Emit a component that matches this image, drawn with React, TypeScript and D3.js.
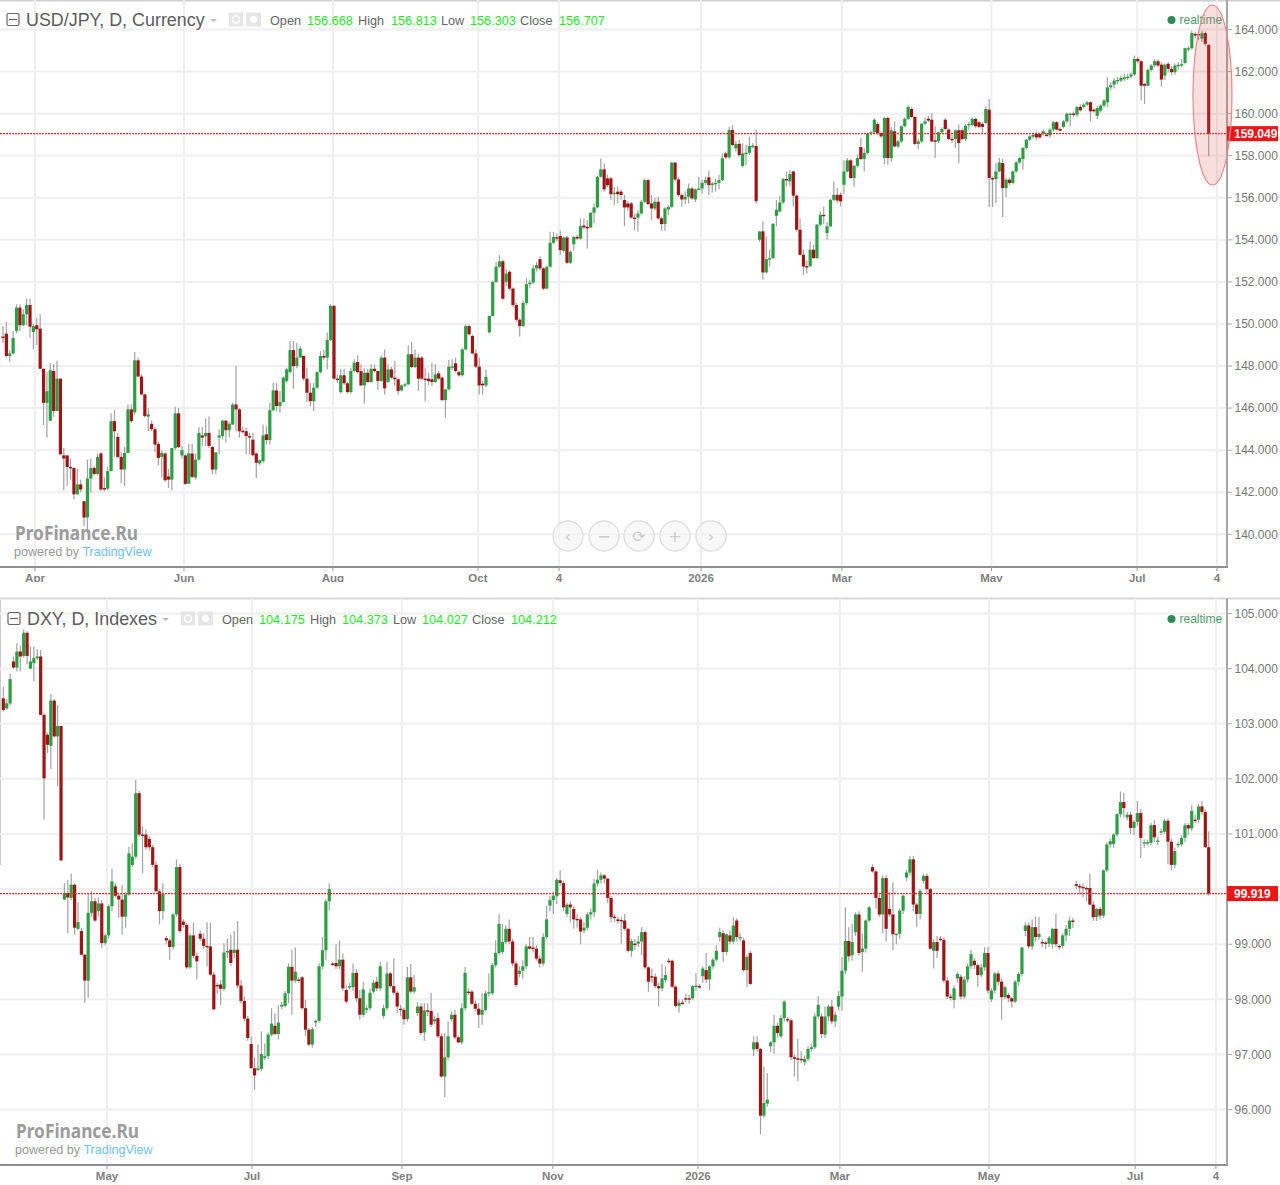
import React from "react";
import * as d3 from "d3";

type Bar = [number, number, number, number]; // open, high, low, close

const usdJpyAprMay: Bar[] = [
[149.4,149.9,149.1,149.35],[149.54,150.1,148.4,148.48],[148.48,148.75,148.2,148.6],[148.6,149.67,148.55,149.33],[149.67,150.94,149.55,150.78],[150.78,150.94,149.67,149.94],[149.94,150.7,149.9,150.46],[150.46,151.2,149.94,150.9],[150.9,151.2,149.35,149.87],[149.62,150.0,148.8,149.9],[149.94,150.3,149.0,149.75],[149.78,150.46,147.87,147.87],[147.87,147.87,145.2,146.25],[146.25,147.7,144.6,146.8],[145.4,148.15,145.4,147.8],[147.76,148.1,145.6,145.86],[145.86,148.25,145.86,147.4],[147.4,147.4,143.8,143.8],[143.75,144.1,142.1,143.6],[143.75,143.75,142.3,143.2],[143.2,143.6,142.6,143.15],[143.15,143.2,141.65,141.9],[141.9,143.1,141.9,142.37],[142.37,142.6,142.0,142.13],[141.57,141.6,140.4,140.8],[140.8,143.55,140.05,142.65],[142.65,143.6,141.97,143.15],[143.15,143.25,142.8,142.87],[142.87,143.84,142.8,143.68],[143.84,143.9,142.05,142.13],[142.2,142.7,142.05,142.17],[142.17,143.2,142.1,143],[143,145.75,143,145.38],[145.38,145.9,143.7,144.9],[144.63,144.8,143.6,143.68],[143.68,143.9,142.44,143.08],[143.08,144.15,142.3,143.87],[143.87,146.17,143.87,145.94],[145.94,146.17,145.3,145.38],[145.8,148.67,145.7,148.27],[148.27,148.4,147.5,147.5],[147.5,147.6,146.6,146.65],[146.65,146.7,145.55,145.62],[145.6,146.0,144.9,145.7],[145.25,145.4,144.9,145],[145,145.1,143.9,144.27],[144.3,144.4,143.3,143.63],[143.68,144.0,142.7,143.87],[143.84,143.9,142.5,142.57],[142.75,143.1,142.2,142.6],[142.6,144.1,142.1,144.1],[144.1,146.06,144,145.75],[145.75,146,144.1,144.15],
];
const usdJpyJunJul: Bar[] = [
[143.75,144.2,143.6,144],[143.75,143.8,142.35,142.4],[142.4,144.3,142.4,143.85],[143.84,144.3,142.68,142.73],[142.7,143.85,142.6,143.55],[143.55,145.1,143.5,144.82],[144.7,145.1,144.2,144.6],[144.66,145.5,144.2,144.82],[144.82,145.6,144.1,144.2],[144.15,144.2,142.85,143.08],[143.08,143.9,142.85,143.9],[144.6,145,143.8,144.7],[144.67,145.45,144.5,145.4],[145.4,145.45,144.35,144.95],[144.95,145.35,144.6,145.25],[145.22,146.25,145.2,146.17],[146.17,148,144.9,145.94],[145.94,146,144.6,144.9],[144.92,145.1,144.8,144.9],[144.9,145.05,143.8,144.67],[144.67,144.83,143.8,144.6],[144.5,144.83,143.7,143.76],[143.84,143.9,142.68,143.4],[143.37,143.55,143.3,143.52],[143.47,145.22,143.4,144.7],[144.75,145.14,144.27,144.48],[144.48,146.25,144.27,145.9],[145.9,147.2,145.85,146.84],[146.84,147.2,145.86,146.1],[146.1,146.81,145.78,146.29],[146.29,147.5,146.25,147.45],[147.29,147.92,147.2,147.84],[147.71,149.19,147.65,148.76],[148.76,149.19,146.92,148],[148,149.11,147.9,148.4],[148.4,148.95,148.4,148.83],[148.48,148.5,147.3,147.4],[147.4,147.92,146.29,146.73],[146.73,147.21,146.1,146.33],[146.33,147.21,145.86,146.97],[146.97,147.75,146.9,147.71],[147.71,148.71,147.65,148.48],[148.48,148.79,148.3,148.4],[148.4,149.59,147.84,149.24],[149.24,150.94,149.2,150.86],[150.86,150.9,147.35,147.4],
];
const usdJpyAugSep: Bar[] = [
[147.4,147.6,147.2,147.35],[146.76,147.87,146.7,147.56],[147.56,147.87,147.1,147.18],[147.18,147.25,146.7,146.76],[146.76,147.92,146.7,147.76],[147.76,148.32,147.7,148.16],[148.19,148.51,147.65,147.71],[147.76,148.08,147.05,147.08],[147.08,147.9,146.22,147.68],[147.68,147.87,147.2,147.24],[147.24,148.08,147.2,147.87],[147.87,148.08,147.7,147.76],[147.76,147.8,146.89,147.29],[147.29,148.5,147.25,148.4],[148.4,148.79,146.65,146.94],[147.24,148.08,147.2,147.84],[147.84,147.95,147.4,147.45],[147.45,148.24,147.05,147.37],[147.37,147.45,146.65,146.81],[146.84,147.12,146.8,147.08],[147.08,147.2,147.0,147.13],[147.13,148.98,147.1,148.56],[148.56,149.14,147.9,147.95],[147.95,148.79,147.9,148.4],[148.4,148.56,146.81,147.4],[148.4,148.48,147.35,147.4],[147.4,147.92,146.33,147.37],[147.4,147.7,147.1,147.29],[147.37,148.16,147.05,147.24],[147.24,148.08,147.2,147.6],[147.65,147.75,147.35,147.4],[147.45,147.5,146.33,146.38],[146.38,146.9,145.54,146.89],[146.89,148.29,146.85,147.97],[147.95,148.32,147.8,147.98],[148.13,148.4,147.7,147.76],[147.71,147.8,147.5,147.56],[147.56,148.85,147.5,148.79],[148.79,149.98,148.75,149.9],[149.9,149.98,149.45,149.51],[149.43,149.5,148.55,148.6],[148.6,148.79,147.9,147.97],[147.97,148.4,146.65,147.08],[147.16,147.3,146.65,147.08],[147.08,147.84,147.0,147.48],
];
const usdJpyOctDec: Bar[] = [
[149.6,150.4,149.55,150.38],[150.38,152.05,150.38,152],[152,152.95,151.95,152.72],[152.72,153.27,152.65,152.98],[152.98,153.05,151.15,151.2],[152,152.6,151.8,152.4],[152.48,152.55,151.6,151.68],[151.68,151.75,150.8,150.9],[150.9,151,150.1,150.2],[150.2,150.3,149.4,149.9],[149.9,151.1,149.85,151],[151,152.16,150.9,151.89],[151.89,152.1,151.7,151.97],[151.97,152.8,151.9,152.64],[152.64,152.95,152.5,152.8],[153.08,153.22,152.55,152.64],[152.64,152.7,151.6,151.68],[151.68,152.75,151.65,152.72],[152.72,154.38,152.7,153.86],[153.86,154.38,153.8,154.14],[154.12,154.3,153.95,154.1],[154.18,154.46,153.27,153.51],[153.48,154.15,153.4,154.11],[154.11,154.2,152.85,152.91],[152.91,153.5,152.85,153.43],[153.79,154.2,153.5,154.14],[154.14,154.25,154,154.06],[154.06,155.02,154,154.65],[154.68,155.02,154.5,154.59],[154.62,154.94,153.59,154.54],[154.59,155.3,154.55,155.29],[155.29,155.73,154.78,155.54],[155.54,157.05,155.5,157],[157,157.87,156.95,157.35],[157.35,157.63,156.29,156.4],[156.92,157.1,156.5,156.6],[156.92,157,155.89,156.17],[156.17,156.52,155.65,156.24],[156.29,156.52,155.73,156.17],[156.29,156.4,155.9,156.13],[155.89,156.13,154.65,155.54],[155.73,155.85,155.4,155.54],[155.73,155.8,155,155.06],[155.06,155.25,154.46,155.03],[155.06,155.41,154.38,155.25],[155.25,155.9,155.2,155.81],[155.81,156.9,155.75,156.84],[156.84,156.9,155.65,155.7],[155.73,156.13,154.94,155.49],[155.49,156,155.4,155.81],[155.81,156.05,154.95,155.02],[155.02,155.1,154.43,154.75],[154.75,155.55,154.43,155.49],[155.44,155.65,155.17,155.57],[155.57,157.7,155.5,157.67],[157.67,157.7,156.8,156.87],[156.87,156.95,156.05,156.13],[156.13,156.2,155.57,155.92],[155.92,156.3,155.7,156.05],[156.05,156.68,155.73,156.44],[156.44,156.5,155.9,155.97],[155.92,156.45,155.8,156.4],[156.4,157,156.35,156.44],[156.44,156.87,156.2,156.71],[156.71,157,156.6,156.84],[156.97,157.29,156.13,156.6],[156.6,156.75,156.25,156.68],[156.68,156.9,156.3,156.71],[156.71,157.08,156.4,156.84],[156.84,158.11,156.8,157.87],[158.11,158.2,157.85,157.92],[157.92,159.38,157.85,159.22],[159.22,159.46,158.45,158.51],[158.35,158.7,158.2,158.56],[158.56,158.75,157.95,158.03],[157.51,158.59,157.44,158.11],[158.08,158.51,157.56,158.14],[158.14,158.9,158.03,158.46],[158.46,158.6,158.35,158.48],[158.46,159.22,155.73,155.84],
];
const usdJpyJanMar: Bar[] = [
[154,154.4,153.9,154.4],[154.4,154.87,152.1,152.45],[152.45,154.16,152.4,153.08],[153.08,153.53,152.73,153.13],[153.13,154.8,153.1,154.76],[155.14,155.9,154.64,155.43],[155.35,156.1,155.3,155.78],[155.78,156.95,155.7,156.89],[156.89,157.25,156.54,156.83],[156.78,157.33,156.54,157.13],[157.25,157.3,155.59,156.1],[156.1,156.15,154.4,154.48],[154.48,155.03,153.25,153.29],[153.29,153.55,152.33,152.73],[152.75,153,152.4,152.74],[152.75,153.92,152.7,153.53],[153.53,153.76,153.1,153.13],[153.13,154.75,153.1,154.72],[154.72,155.35,154.65,155.19],[155.19,155.59,154.75,155.14],[154.32,154.85,154,154.64],[154.64,155.95,154.6,155.9],[155.9,156.78,155.85,156.14],[156.14,156.46,155.75,155.87],[156.14,156.25,155.59,155.83],[156.62,157.78,156.19,157.25],[157.25,157.89,157.2,157.78],[157.78,157.85,156.9,156.94],[156.94,157.55,156.51,157.52],[157.52,158.05,157.45,157.89],[158.41,158.84,157.8,157.84],[157.84,158.35,157.25,158.13],[158.13,159.1,158.05,159.05],[159.05,159.2,158.95,159.11],[159.11,159.78,159.05,159.71],[159.51,159.6,159.0,159.08],[159.08,159.15,158.85,158.92],[157.89,159.85,157.6,159.79],[159.79,159.85,157.57,157.89],[157.89,159.35,157.7,159.21],[159.16,159.63,158.4,158.44],[158.44,158.75,158.35,158.68],[158.68,159.45,158.6,159.4],[159.4,159.8,159.35,159.75],[159.75,160.4,159.7,160.32],[160.22,160.3,159.8,159.84],[159.84,159.9,158.5,158.56],
];
const usdJpyAprJun: Bar[] = [
[158.56,158.8,158.3,158.68],[158.68,159.55,158.6,159.52],[159.52,159.8,159.45,159.63],[159.76,159.9,159.6,159.67],[159.71,160.03,158.65,158.68],[158.73,159.4,157.89,158.68],[158.68,159.15,158.6,159.11],[159.11,159.35,159.05,159.27],[159.71,159.8,159.2,159.27],[159.24,159.3,158.75,158.79],[158.8,159,158.6,158.79],[158.79,159.25,158.37,159.21],[159.21,159.48,157.65,158.6],[159.21,159.3,158.75,158.79],[158.79,159.5,158.7,159.43],[159.46,159.63,159.2,159.51],[159.46,159.8,159.4,159.75],[159.75,159.8,159.3,159.4],[159.59,159.65,159.3,159.37],[159.51,159.6,159.05,159.37],[159.56,160.35,159.5,160.22],[160.19,160.7,155.56,156.94],[156.94,157,155.56,156.89],[156.89,157.65,155.75,157.25],[157.25,157.9,157.2,157.68],[157.65,157.85,155.08,156.46],[156.46,156.95,156.03,156.86],[156.86,156.95,156.6,156.7],[156.7,157.3,156.65,157.25],[157.25,157.75,157.2,157.68],[157.68,157.95,157.6,157.89],[157.84,158.4,157.33,158.37],[158.37,158.8,158.3,158.76],[158.76,159,158.7,158.92],[158.9,159.1,158.8,159],[159.03,159.15,158.75,158.87],[159.03,159.1,158.8,158.87],[159.05,159.25,158.95,159.16],[159,159.1,158.9,158.97],[158.97,159.3,158.85,159.24],[159.24,159.65,159.15,159.59],[159.59,159.65,159.2,159.24],[159.27,159.35,159.15,159.19],[159.37,159.7,159.3,159.63],[159.63,160.05,159.55,160],[159.94,160.05,159.4,160],[160,160.1,159.85,159.98],[159.95,160.35,159.85,160.32],[160.32,160.45,160.1,160.16],[160.32,160.5,160.25,160.43],[160.43,160.6,160.35,160.54],[160.54,160.6,159.63,160.11],[160.19,160.25,160.05,160.11],[159.9,160.35,159.75,160.27],
];
const usdJpyJulAug: Bar[] = [
[160.14,160.45,160.05,160.38],[160.38,160.7,160.3,160.62],[160.54,161.73,160.3,161.25],[161.25,161.5,161.1,161.35],[161.38,161.7,161.2,161.57],[161.54,161.75,161.4,161.6],[161.57,161.8,161.5,161.7],[161.64,161.9,161.55,161.73],[161.73,161.9,161.6,161.76],[161.76,161.95,161.7,161.86],[161.86,162.76,161.8,162.6],[162.6,162.7,162.4,162.49],[162.49,162.55,160.62,161.33],[161.41,161.45,160.46,161.33],[161.33,162.15,161.3,162.08],[162.08,162.35,162,162.29],[162.29,162.6,162.2,162.49],[162.49,162.6,162.2,162.29],[162.33,162.45,161.29,161.62],[161.81,162.4,161.6,162.33],[162.37,162.45,161.95,162.13],[162.13,162.25,161.85,161.97],[161.97,162.4,161.85,162.29],[162.27,162.45,162.1,162.32],[162.32,162.6,162.2,162.35],[162.41,163.15,162.35,163.11],[163.08,163.2,162.95,163.11],[163.11,163.95,163.05,163.83],[163.79,163.9,163.6,163.71],[163.79,163.9,163.5,163.75],[163.56,163.95,163.4,163.83],[163.83,163.9,163.2,163.32],[163.27,163.3,157.97,159.049],
];

const dxyMarMay: Bar[] = [
[103.46,103.67,103.22,103.25],[103.28,103.45,103.25,103.37],[103.37,103.91,103.33,103.81],[104.13,104.22,104.0,104.02],[104.02,104.46,103.95,104.31],[104.31,104.42,103.95,104.22],[104.23,104.71,104.2,104.65],[104.65,104.68,104.08,104.23],[104.0,104.4,104.0,104.13],[104.1,104.4,103.77,104.19],[104.19,104.35,104.15,104.22],[104.22,104.34,103.16,103.16],[103.16,103.2,101.26,102.01],[102.8,102.83,102.47,102.62],[102.6,103.54,102.18,103.42],[103.42,103.45,102.75,102.77],[102.77,103.34,101.86,102.96],[102.96,102.96,100.52,100.52],[99.81,100.11,99.81,99.93],[99.93,100.16,99.2,99.85],[99.84,100.28,99.8,100.08],[100.08,100.1,99.17,99.3],[99.28,99.76,99.25,99.4],[99.24,99.3,98.8,98.81],[98.81,98.82,97.94,98.34],[98.34,99.93,98.03,99.57],[99.57,99.96,99.5,99.78],[99.78,99.84,99.4,99.43],[99.6,99.85,99.5,99.74],[99.74,99.8,98.93,99.02],[99.02,99.2,98.98,99.16],[99.16,99.72,99.1,99.69],[99.69,100.37,99.6,100.14],[100.05,100.11,99.85,99.88],[99.88,99.92,99.48,99.81],[99.81,100.08,99.17,99.5],[99.5,99.95,99.3,99.9],[99.9,100.77,99.88,100.65],[100.44,100.83,100.4,100.59],[100.59,101.98,100.55,101.74],[101.74,101.78,100.95,100.99],[100.99,101.14,100.29,100.97],[100.99,101.08,100.72,100.76],[100.91,100.96,100.7,100.76],[100.76,100.8,100.4,100.44],[100.44,100.5,99.95,99.96],[99.96,100,99.36,99.6],[99.6,100.11,99.45,99.92],
];
const dxyJunJul: Bar[] = [
[99.11,99.15,99.0,99.07],[99.07,99.1,98.72,98.95],[98.95,99.56,98.9,99.54],[99.54,100.54,99.5,100.4],[100.4,100.46,99.2,99.24],[99.41,99.45,99.3,99.35],[99.35,99.38,98.55,98.58],[98.58,99.2,98.55,99.16],[99.16,99.39,98.75,98.79],[98.79,98.85,98.36,98.69],[99.19,99.25,99.05,99.1],[99.1,99.2,98.92,98.97],[98.97,99.4,98.6,98.95],[98.96,99.39,98.42,98.45],[98.45,98.5,97.8,97.82],[98.26,98.3,98.1,98.24],[98.27,98.35,97.9,98.19],[98.19,99.02,98.15,98.85],[98.85,99.1,98.75,98.88],[98.9,99.17,98.6,98.66],[98.84,99.24,98.75,98.9],[98.9,99.42,98.2,98.25],[98.25,98.35,97.92,97.97],[97.97,98.05,97.6,97.65],[97.65,97.7,97.25,97.3],[97.19,97.32,96.75,96.75],[96.75,96.95,96.36,96.62],[96.72,97.18,96.7,96.75],[96.74,97.42,96.7,97.01],[96.94,97.2,96.9,96.97],[96.97,97.4,96.92,97.36],[97.36,97.84,97.33,97.56],[97.52,97.75,97.35,97.37],[97.37,97.9,97.27,97.58],[97.87,97.95,97.82,97.9],[97.88,98.15,97.85,98.11],[98.11,98.65,97.93,98.59],[98.59,98.9,97.72,98.34],[98.34,98.94,98.3,98.5],[98.36,98.4,98.3,98.35],[98.4,98.42,97.82,97.84],[97.84,97.99,97.33,97.45],[97.45,97.48,97.15,97.18],[97.18,97.5,97.12,97.46],[97.58,97.63,97.5,97.61],[97.61,98.65,97.58,98.6],[98.6,99.13,98.55,98.89],[98.89,99.82,98.71,99.78],[99.78,100.1,99.61,100],
];
const dxyAugOct: Bar[] = [
[98.65,98.68,98.6,98.63],[98.66,99.0,98.55,98.6],[98.6,99.07,98.55,98.72],[98.72,98.83,98.15,98.2],[98.17,98.25,97.92,97.96],[98.23,98.3,98.18,98.24],[98.22,98.65,98.15,98.48],[98.48,98.55,97.95,98.02],[98.02,98.17,97.63,97.72],[97.72,98.32,97.68,98.18],[97.81,97.9,97.75,97.84],[97.84,98.2,97.8,98.12],[98.14,98.35,98.1,98.3],[98.32,98.41,98.15,98.2],[98.2,98.68,98.15,98.6],[97.7,97.9,97.65,97.84],[97.84,98.68,97.8,98.47],[98.47,98.5,98.2,98.24],[98.24,98.74,98.08,98.12],[98.12,98.15,97.75,97.87],[97.83,97.9,97.7,97.81],[97.81,97.85,97.54,97.64],[97.64,98.59,97.6,98.4],[98.4,98.64,98.1,98.14],[98.14,98.44,98.1,98.22],[97.75,97.95,97.7,97.87],[97.87,97.93,97.35,97.39],[97.4,97.93,97.25,97.8],[97.8,97.93,97.7,97.79],[97.79,98.12,97.5,97.54],[97.6,97.7,97.55,97.64],[97.66,97.75,97.3,97.33],[97.33,97.38,96.58,96.6],[96.6,97.39,96.23,96.95],[96.95,97.6,96.9,97.33],[97.64,97.78,97.6,97.72],[97.72,97.81,97.28,97.31],[97.31,97.35,97.2,97.22],[97.22,97.93,97.18,97.84],[97.84,98.59,97.8,98.48],[98.14,98.2,98.08,98.13],[98.14,98.18,97.9,97.92],[97.92,97.98,97.78,97.83],[97.83,97.93,97.48,97.72],[97.72,98.11,97.54,97.81],[97.81,98.15,97.78,98.11],[98.11,98.47,98.05,98.13],[98.11,98.66,98.08,98.62],[98.62,99.07,98.58,98.84],[98.84,99.55,98.8,99.37],[98.86,99.37,98.82,99.04],[99.04,99.35,99.0,99.28],[99.28,99.45,99.0,99.05],[99.05,99.1,98.6,98.65],[98.65,98.7,98.22,98.26],[98.46,98.6,98.4,98.52],[98.52,98.71,98.38,98.6],[98.6,99,98.55,98.96],[98.96,99.13,98.9,98.92],[98.94,99.13,98.85,98.93],
];
const dxyNovDec: Bar[] = [
[98.92,98.98,98.7,98.74],[98.74,98.8,98.58,98.65],[98.65,99.2,98.6,99.13],[99.13,99.7,99.1,99.45],[99.7,99.88,99.6,99.8],[99.8,99.95,99.55,99.88],[99.87,100.2,99.73,100.17],[100.16,100.34,100.05,100.11],[100.11,100.15,99.6,99.67],[99.55,99.75,99.5,99.72],[99.72,99.78,99.4,99.67],[99.64,99.7,99.28,99.45],[99.46,99.55,99.3,99.45],[99.45,99.5,99,99.23],[99.25,99.4,99.2,99.3],[99.3,99.58,99.25,99.54],[99.54,99.65,99.45,99.58],[99.58,100.19,99.5,100.1],[100.1,100.35,100.05,100.17],[100.17,100.3,100.1,100.25],[100.25,100.27,100.1,100.19],[100.19,100.2,99.75,99.84],[99.84,99.88,99.4,99.49],[99.5,99.55,99.4,99.49],[99.45,99.5,99.38,99.42],[99.44,99.5,99.01,99.43],[99.43,99.55,99.25,99.28],[99.28,99.3,98.85,98.88],[98.88,99.1,98.77,99.06],[99.01,99.1,98.9,99],[99.01,99.15,98.95,99.05],[99.05,99.31,98.8,99.22],[99.22,99.25,98.55,98.58],[98.58,98.6,98.14,98.32],[98.42,98.55,98.3,98.41],[98.41,98.47,98.2,98.24],[98.24,98.3,97.87,98.2],[98.2,98.64,98.15,98.38],[98.35,98.59,98.3,98.44],[98.7,98.75,98.65,98.68],[98.7,98.72,98.2,98.23],[98.23,98.25,97.85,97.88],[97.88,98.0,97.76,97.94],[97.94,98.0,97.9,97.93],[98.02,98.1,97.95,98.0],[98.02,98.08,97.92,98.0],[98.02,98.26,97.98,98.24],[98.24,98.48,98.15,98.25],[98.24,98.28,98.2,98.23],[98.42,98.6,98.3,98.56],[98.53,98.84,98.3,98.36],[98.36,98.62,98.17,98.6],[98.6,98.75,98.55,98.72],[98.72,98.98,98.68,98.88],[99.13,99.3,99.05,99.22],[99.2,99.25,98.68,98.86],[98.86,99.2,98.8,99.18],[99.16,99.25,99.0,99.05],[99.05,99.49,99.0,99.34],[99.43,99.47,99.05,99.13],[99.12,99.2,99.05,99.13],[99.07,99.12,98.5,98.53],[98.53,98.8,98.23,98.77],[98.84,98.88,98.26,98.28],
];
const dxyJanApr: Bar[] = [
[97.09,97.33,96.97,97.22],[97.22,97.33,97.05,97.1],[97.1,97.12,95.55,95.89],[95.89,96.78,95.85,96.12],[96.11,96.66,96.05,96.18],[97.15,97.25,97.05,97.22],[97.22,97.72,97.01,97.52],[97.52,97.58,97.3,97.39],[97.33,97.72,97.3,97.66],[97.66,97.98,97.6,97.96],[97.64,97.68,97.58,97.62],[97.62,97.65,96.9,96.95],[96.95,97.0,96.6,96.92],[96.93,97.28,96.51,96.92],[96.92,97.06,96.85,96.9],[96.86,96.98,96.8,96.92],[96.92,97.15,96.88,97.1],[97.1,97.2,97.05,97.13],[97.13,97.75,97.1,97.69],[97.69,98.06,97.65,97.9],[97.69,97.75,97.3,97.37],[97.36,97.87,97.3,97.69],[97.69,97.9,97.6,97.87],[97.87,97.99,97.55,97.6],[97.6,97.78,97.5,97.72],[97.87,98.15,97.8,98.06],[98.05,98.77,97.8,98.52],[98.52,99.67,98.45,99.06],[99.06,99.31,98.68,98.78],[98.8,99.37,98.7,99.04],[99.22,99.58,99.15,99.54],[99.54,99.6,98.8,98.84],[98.86,99.2,98.5,98.92],[98.92,99.45,98.85,99.43],[99.43,99.7,99.4,99.67],[100.4,100.45,100.3,100.32],[100.32,100.35,99.65,99.84],[99.84,99.9,99.5,99.54],[99.54,100.25,99.2,100.2],[100.2,100.25,99.05,99.28],[99.64,99.95,99.5,99.54],[99.54,100.12,98.89,99.18],[99.17,99.2,99.0,99.19],[99.19,99.65,99.1,99.61],[99.61,99.9,99.55,99.88],[100.21,100.35,100.15,100.3],[100.3,100.6,100.25,100.54],[100.54,100.6,99.6,99.72],[99.72,99.75,99.31,99.55],[99.55,100.0,99.45,99.97],[100.15,100.28,100.1,100.24],[100.24,100.28,99.9,100],[100,100.02,98.9,98.92],
];
const dxyMayJun: Bar[] = [
[98.88,99.1,98.56,99.04],[99.04,99.15,98.75,98.88],[99.1,99.15,99.05,99.08],[99.08,99.12,98.3,98.34],[98.34,98.4,98.0,98.05],[98.05,98.1,97.98,98.04],[97.99,98.25,97.84,98.2],[98.38,98.5,98.3,98.46],[98.41,98.45,98.0,98.05],[98.05,98.42,98.0,98.36],[98.36,98.65,98.3,98.6],[98.6,98.9,98.55,98.82],[98.7,98.75,98.55,98.62],[98.62,98.65,98.22,98.44],[98.44,98.65,98.4,98.58],[98.58,98.95,98.52,98.84],[98.84,98.95,98.1,98.16],[98,98.2,97.95,98.16],[98.16,98.5,98.1,98.47],[98.47,98.52,98.25,98.32],[98.32,98.38,97.63,98.04],[98.04,98.25,98,98.22],[98.08,98.12,97.95,98.02],[98.02,98.05,97.85,97.96],[97.96,98.35,97.93,98.32],[98.32,98.5,98.25,98.46],[98.46,98.96,98.42,98.94],[99.24,99.4,99.15,99.34],[99.34,99.4,98.92,98.96],[98.96,99.45,98.9,99.31],[99.31,99.5,99.05,99.13],[99.13,99.5,99.08,99.19],[99.04,99.1,98.95,99.03],[99.03,99.06,98.92,99.02],[99.01,99.15,98.95,99.12],[99.0,99.3,98.92,99.28],[99.28,99.55,98.95,99],[98.97,99,98.9,98.96],[98.97,99.2,98.92,99.16],[99.16,99.35,99.05,99.28],[99.28,99.5,99.15,99.43],[99.43,99.48,99.3,99.42],[100.09,100.15,100.0,100.06],[100.06,100.1,99.9,100.03],[100.04,100.1,99.85,100.02],[100.02,100.05,99.78,100.0],[100.02,100.28,99.7,99.72],[99.72,99.78,99.42,99.49],[99.49,99.66,99.42,99.64],[99.64,99.68,99.45,99.52],[99.52,100.36,99.48,100.34],
];
const dxyJulAug: Bar[] = [
[100.34,100.85,100.3,100.81],[100.81,100.92,100.75,100.87],[100.82,101.02,100.75,100.99],[100.99,101.38,100.95,101.36],[101.36,101.77,101.3,101.58],[101.58,101.75,101.3,101.47],[101.3,101.4,101.25,101.35],[101.35,101.4,101.0,101.11],[101.11,101.25,100.98,101.22],[101.22,101.6,101.15,101.38],[101.38,101.45,100.56,100.93],[100.84,100.9,100.75,100.85],[100.84,100.9,100.8,100.85],[100.84,101.2,100.8,101.16],[101.16,101.25,100.85,100.94],[100.87,100.95,100.8,100.88],[101.04,101.1,100.98,101.05],[101.04,101.28,101,101.24],[101.24,101.28,100.45,100.86],[100.86,100.92,100.34,100.44],[100.44,100.75,100.38,100.69],[100.81,100.86,100.75,100.82],[100.81,100.98,100.77,100.93],[100.93,101.2,100.85,101.16],[101.16,101.2,100.98,101.1],[101.1,101.52,101.05,101.42],[101.26,101.35,101.2,101.25],[101.26,101.55,101.2,101.5],[101.5,101.6,101.35,101.4],[101.4,101.45,100.75,100.76],[100.76,101.05,99.88,99.919],
];

const usdJpyBars: Bar[] = [...usdJpyAprMay, ...usdJpyJunJul, ...usdJpyAugSep, ...usdJpyOctDec, ...usdJpyJanMar, ...usdJpyAprJun, ...usdJpyJulAug];
const dxyBars: Bar[] = [...dxyMarMay, ...dxyJunJul, ...dxyAugOct, ...dxyNovDec, ...dxyJanApr, ...dxyMayJun, ...dxyJulAug];

const usdJpyPrices = [164, 162, 160, 158, 156, 154, 152, 150, 148, 146, 144, 142, 140];
const dxyPrices = [105, 104, 103, 102, 101, 100, 99, 98, 97, 96];
const usdJpyTickLabels = ["Apr", "Jun", "Aug", "Oct", "4", "2026", "Mar", "May", "Jul", "4"];
const usdJpyTickBars = [8.73, 52.08, 95.4, 137.6, 161.2, 202.5, 243.5, 287, 329.4, 352.6];
const dxyTickLabels = ["May", "Jul", "Sep", "Nov", "2026", "Mar", "May", "Jul", "4"];
const dxyTickBars = [29.68, 71.86, 115.5, 159.4, 201.6, 242.9, 286.3, 328.8, 352.3];
const usdJpyHeader = { title: "USD/JPY, D, Currency", open: "156.668", high: "156.813", low: "156.303", close: "156.707" };
const dxyHeader = { title: "DXY, D, Indexes", open: "104.175", high: "104.373", low: "104.027", close: "104.212" };

const UP = "#2f9e44";
const DOWN = "#9c1414";
const WICK = "#a2a2a2";
const GRID = "#efefef";
const TEXT = "#666";
const FONT = "'Liberation Sans', Arial, sans-serif";
const LIME = "#1ee82a";

type PanelProps = {
  bars: Bar[]; prices: number[]; domain: [number, number]; range: [number, number];
  tickLabels: string[]; tickBars: number[]; axisY: number; top: number; header: typeof usdJpyHeader;
  last: string; clipId: string; firstX: number; dx: number; titleW: number; offs: number[];
};

function Panel(p: PanelProps) {
  const y = d3.scaleLinear().domain(p.domain).range(p.range);
  const x = d3.scaleLinear().domain([0, p.bars.length - 1]).range([p.firstX, 1208.7]);
  const tickX = d3.scaleLinear().domain([0, 350]).range([5, 1208]);
  const lastY = y(parseFloat(p.last));
  const h = p.header;
  const baseY = p.top;
  return (
    <g>
      <clipPath id={p.clipId}><rect x={0} y={p.top - 26} width={1227} height={p.axisY - p.top + 26} /></clipPath>
      {p.prices.map((v) => <line key={v} x1={0} x2={1227} y1={y(v)} y2={y(v)} stroke={GRID} strokeWidth={2} />)}
      {p.tickBars.map((b, i) => <line key={i} x1={tickX(b)} x2={tickX(b)} y1={p.top - 26} y2={p.axisY} stroke={GRID} strokeWidth={2} />)}
      <g clipPath={`url(#${p.clipId})`} filter="url(#soft)">
        {p.bars.map((d, i) => <line key={i} x1={x(i)} x2={x(i)} y1={y(d[1])} y2={y(d[2])} stroke={WICK} strokeWidth={1.2} />)}
        {p.bars.map((d, i) => {
          const top = y(Math.max(d[0], d[3]));
          const bot = y(Math.min(d[0], d[3]));
          return <rect key={i} x={x(i) - 1.6} width={3.2} y={top} height={Math.max(bot - top, 1.4)} fill={d[3] >= d[0] ? UP : DOWN} />;
        })}
      </g>
      <line x1={0} x2={1227} y1={lastY} y2={lastY} stroke="#f02c30" strokeWidth={1.2} strokeDasharray="2 1" />
      {/* axes */}
      <line x1={0} x2={1228} y1={p.axisY} y2={p.axisY} stroke="#8f8f8f" strokeWidth={2} />
      <line x1={1227} x2={1227} y1={p.top - 26} y2={p.axisY} stroke="#a6a6a6" strokeWidth={2} />
      {p.tickBars.map((b, i) => (
        <g key={i}>
          <line x1={tickX(b)} x2={tickX(b)} y1={p.axisY} y2={p.axisY + 4} stroke="#999" />
          <text x={tickX(b)} y={p.axisY + 14.5} textAnchor="middle" fontSize={11.5} fontWeight={700} fill="#808080" fontFamily={FONT}>{p.tickLabels[i]}</text>
        </g>
      ))}
      {p.prices.map((v) => (
        <g key={v}>
          <line x1={1227} x2={1232} y1={y(v)} y2={y(v)} stroke="#aaa" />
          {Math.abs(y(v) - lastY) > 10 && (
            <text x={1234.5} y={y(v) + 4.2} fontSize={12} fill="#777" fontFamily={FONT} fontWeight={500}>{d3.format(".3f")(v)}</text>
          )}
        </g>
      ))}
      <rect x={1227} y={lastY - 7.5} width={51} height={15} fill="#f01414" />
      <text x={1234} y={lastY + 4.3} fontSize={12} fontWeight={700} fill="#fff" fontFamily={FONT}>{p.last}</text>
      {/* header */}
      <g fontFamily={FONT}>
        <rect x={7 + p.dx} y={baseY - 12} width={12} height={12} rx={1.5} fill="none" stroke="#666" strokeWidth={1.2} />
        <line x1={9 + p.dx} x2={17 + p.dx} y1={baseY - 6} y2={baseY - 6} stroke="#666" strokeWidth={1.2} />
        <text x={26 + p.dx} y={baseY} fontSize={17.9} fill="#5c5c5c">{h.title}</text>
        <path d={`M${p.titleW} ${baseY - 6.5}h7l-3.5 3z`} fill="#bbb" />
        <rect x={p.titleW + 19} y={baseY - 13} width={14} height={14} fill="#e6e6e6" />
        <circle cx={p.titleW + 26} cy={baseY - 6} r={3.5} fill="none" stroke="#fff" strokeWidth={1.5} />
        <rect x={p.titleW + 36} y={baseY - 13} width={15} height={14} fill="#e6e6e6" />
        <circle cx={p.titleW + 43.5} cy={baseY - 6} r={3.5} fill="#fff" />
        <g fontSize={12.7}>
          <text x={p.offs[0]} y={baseY - 0.5} fill={TEXT}>Open</text>
          <text x={p.offs[1]} y={baseY - 0.5} fill={LIME}>{h.open}</text>
          <text x={p.offs[2]} y={baseY - 0.5} fill={TEXT}>High</text>
          <text x={p.offs[3]} y={baseY - 0.5} fill={LIME}>{h.high}</text>
          <text x={p.offs[4]} y={baseY - 0.5} fill={TEXT}>Low</text>
          <text x={p.offs[5]} y={baseY - 0.5} fill={LIME}>{h.low}</text>
          <text x={p.offs[6]} y={baseY - 0.5} fill={TEXT}>Close</text>
          <text x={p.offs[7]} y={baseY - 0.5} fill={LIME}>{h.close}</text>
        </g>
        <circle cx={1171.5} cy={baseY - 5.5} r={4} fill="#2e8b57" />
        <text x={1179.5} y={baseY - 1.5} fontSize={12} fill="#4f9c72">realtime</text>
      </g>
    </g>
  );
}

function Mark({ x, y }: { x: number; y: number }) {
  return (
    <g>
      <text x={x} y={y} fontSize={19} fontWeight={700} fill="#9b9b9b" fontFamily="'Noto Sans', Roboto, sans-serif" textLength={123} lengthAdjust="spacingAndGlyphs">ProFinance.Ru</text>
      <text x={x - 1} y={y + 16} fontSize={12.6} fontFamily={FONT}>
        <tspan fill="#999">powered by </tspan><tspan fill="#71c1e8">TradingView</tspan>
      </text>
    </g>
  );
}

const navGlyphs = ["‹", "−", "⟳", "+", "›"];
const navX = [568, 604, 639, 675, 711];

export default function App() {
  return (
    <svg width={1280} height={1185} viewBox="0 0 1280 1185" style={{ position: "absolute", left: 0, top: 0, background: "#fff" }}>
      <defs><filter id="soft" x="-2%" y="-2%" width="104%" height="104%"><feGaussianBlur stdDeviation="0.35" /></filter></defs>
      <line x1={0} x2={1280} y1={0.5} y2={0.5} stroke="#cfcfcf" strokeWidth={2} />
      <Panel bars={usdJpyBars} prices={usdJpyPrices} domain={[164, 140]} range={[29.5, 534.3]} tickLabels={usdJpyTickLabels} tickBars={usdJpyTickBars}
        axisY={567} top={25.5} header={usdJpyHeader} last="159.049" clipId="c1" firstX={3} dx={0} titleW={210}
        offs={[270, 307, 358, 391, 441, 470, 520, 559]} />
      {navX.map((cx, i) => (
        <g key={i}>
          <circle cx={cx} cy={536} r={15} fill="#f5f5f5" fillOpacity={0.7} stroke="#dedede" strokeWidth={1.3} />
          <text x={cx} y={541.5} textAnchor="middle" fontSize={16} fill="#ccc" fontFamily="'DejaVu Sans', sans-serif">{navGlyphs[i]}</text>
        </g>
      ))}
      <Mark x={15} y={540} />
      <rect x={0} y={582} width={1280} height={15} fill="#fff" />
      <rect x={0} y={597.5} width={1280} height={2} fill="#d8d8d8" />
      <line x1={0.5} x2={0.5} y1={600} y2={865} stroke="#ccc" />

      <Panel bars={dxyBars} prices={dxyPrices} domain={[105, 96]} range={[613.5, 1109.6]} tickLabels={dxyTickLabels} tickBars={dxyTickBars}
        axisY={1165} top={624.5} header={dxyHeader} last="99.919" clipId="c2" firstX={3.3} dx={1} titleW={162}
        offs={[222, 259, 310, 342, 393, 422, 472, 511]} />
      <Mark x={16} y={1138} />
      <ellipse cx={1212.5} cy={95} rx={19.5} ry={90} fill="#e05a5a" fillOpacity={0.2} stroke="#e28a8a" strokeWidth={1.2} />
    </svg>
  );
}
